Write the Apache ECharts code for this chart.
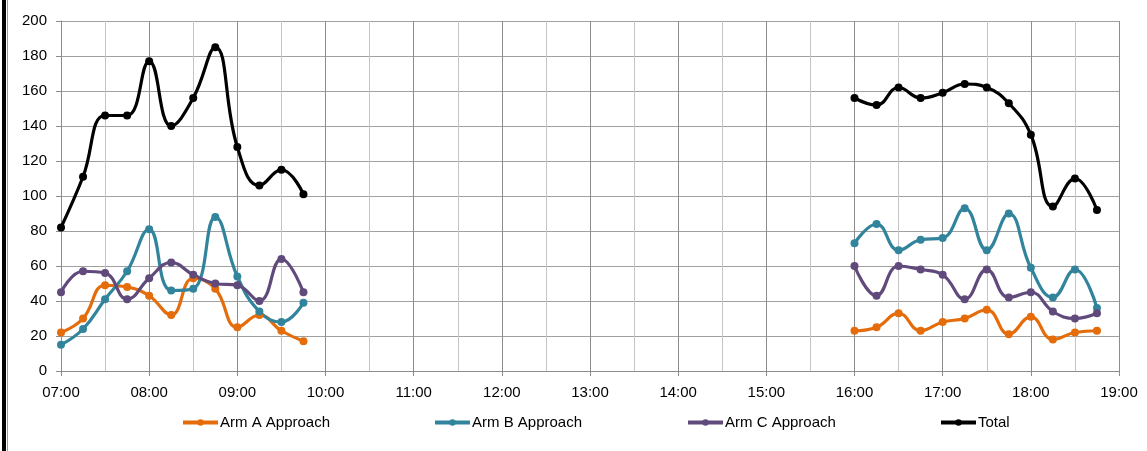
<!DOCTYPE html>
<html>
<head>
<meta charset="utf-8">
<script src="https://cdn.jsdelivr.net/npm/echarts@6/dist/echarts.min.js"></script>
<style>
html,body{margin:0;padding:0;background:#fff;}
#c{width:1147px;height:451px;}
</style>
</head>
<body>
<div id="c"></div>
<script>
const amTimes = ['07:00','07:15','07:30','07:45','08:00','08:15','08:30','08:45','09:00','09:15','09:30','09:45'];
const pmTimes = ['16:00','16:15','16:30','16:45','17:00','17:15','17:30','17:45','18:00','18:15','18:30','18:45'];
const armA_am = [22,30,49,48,43,32,53,47,25,32,23,17];
const armA_pm = [23,25,33,23,28,30,35,21,31,18,22,23];
const armB_am = [15,24,41,57,81,46,47,88,54,34,28,39];
const armB_pm = [73,84,69,75,76,93,69,90,59,42,58,36];
const armC_am = [45,57,56,41,53,62,55,50,49,40,64,45];
const armC_pm = [60,43,60,58,55,41,58,42,45,34,30,33];
const total_am = [82,111,146,146,177,140,156,185,128,106,115,101];
const total_pm = [156,152,162,156,159,164,162,153,135,94,110,92];
const seriesNames = ['Arm A Approach','Arm B Approach','Arm C Approach','Total'];
const seriesColors = ['#E46C0A','#31849B','#604A7B','#000000'];
const xTickLabels = ['07:00','08:00','09:00','10:00','11:00','12:00','13:00','14:00','15:00','16:00','17:00','18:00','19:00'];

function toMin(t){const p=t.split(':');return (+p[0])*60+(+p[1]);}
function fmt(m){const h=Math.floor(m/60),mm=m%60;return (h<10?'0':'')+h+':'+(mm<10?'0':'')+mm;}
function build(am, pm){
  const d = amTimes.map((t,i)=>[toMin(t), am[i]]);
  d.push([toMin('12:00'), '-']);
  pmTimes.forEach((t,i)=>d.push([toMin(t), pm[i]]));
  return d;
}
const allData = [build(armA_am,armA_pm), build(armB_am,armB_pm), build(armC_am,armC_pm), build(total_am,total_pm)];

const FONT = 'Liberation Sans, Arial, sans-serif';
const legendLefts = [176, 428, 681, 934];

const chart = echarts.init(document.getElementById('c'), null, {renderer:'canvas'});
chart.setOption({
  animation:false,
  backgroundColor:'#fff',
  textStyle:{fontFamily:FONT},
  grid:{left:61, right:28, top:21, bottom:80, containLabel:false},
  legend: seriesNames.map((n,i)=>({
    data:[n], left:legendLefts[i], top:410, itemWidth:35, itemHeight:8, itemGap:0,
    lineStyle:{width:4},
    textStyle:{fontFamily:FONT, fontSize:15, color:'#000', padding:[0,0,0,-3]}
  })),
  xAxis:{
    type:'value', min:toMin(xTickLabels[0]), max:toMin(xTickLabels[xTickLabels.length-1]), interval:60,
    axisLine:{show:true, lineStyle:{color:'#8c8c8c', width:1}},
    axisTick:{show:true, inside:false, length:5, lineStyle:{color:'#8c8c8c'}},
    axisLabel:{color:'#000', fontSize:15, fontFamily:FONT, margin:14, formatter:v=>fmt(v)},
    splitLine:{show:true, lineStyle:{color:'#8c8c8c', width:1}},
    minorTick:{show:false, splitNumber:2},
    minorSplitLine:{show:true, lineStyle:{color:'#c4c4c4', width:1}}
  },
  yAxis:{
    type:'value', min:0, max:200, interval:20,
    axisLine:{show:true, lineStyle:{color:'#8c8c8c', width:1}},
    axisTick:{show:true, length:5, lineStyle:{color:'#8c8c8c'}},
    axisLabel:{color:'#000', fontSize:15, fontFamily:FONT, margin:14},
    splitLine:{show:true, lineStyle:{color:'#a0a0a0', width:1}}
  },
  series: seriesNames.map((n,i)=>({
    name:n, type:'line', data:allData[i], smooth:0.45, connectNulls:false,
    symbol:'circle', symbolSize:8, showSymbol:true,
    lineStyle:{color:seriesColors[i], width:3.2},
    itemStyle:{color:seriesColors[i]},
    z: i===3?3:2
  })),
  graphic:[
    {type:'rect', shape:{x:2, y:0, width:4, height:451}, style:{fill:'#000'}},
    {type:'rect', shape:{x:7, y:0, width:1, height:451}, style:{fill:'#9a9a9a'}}
  ]
});
</script>
</body>
</html>
